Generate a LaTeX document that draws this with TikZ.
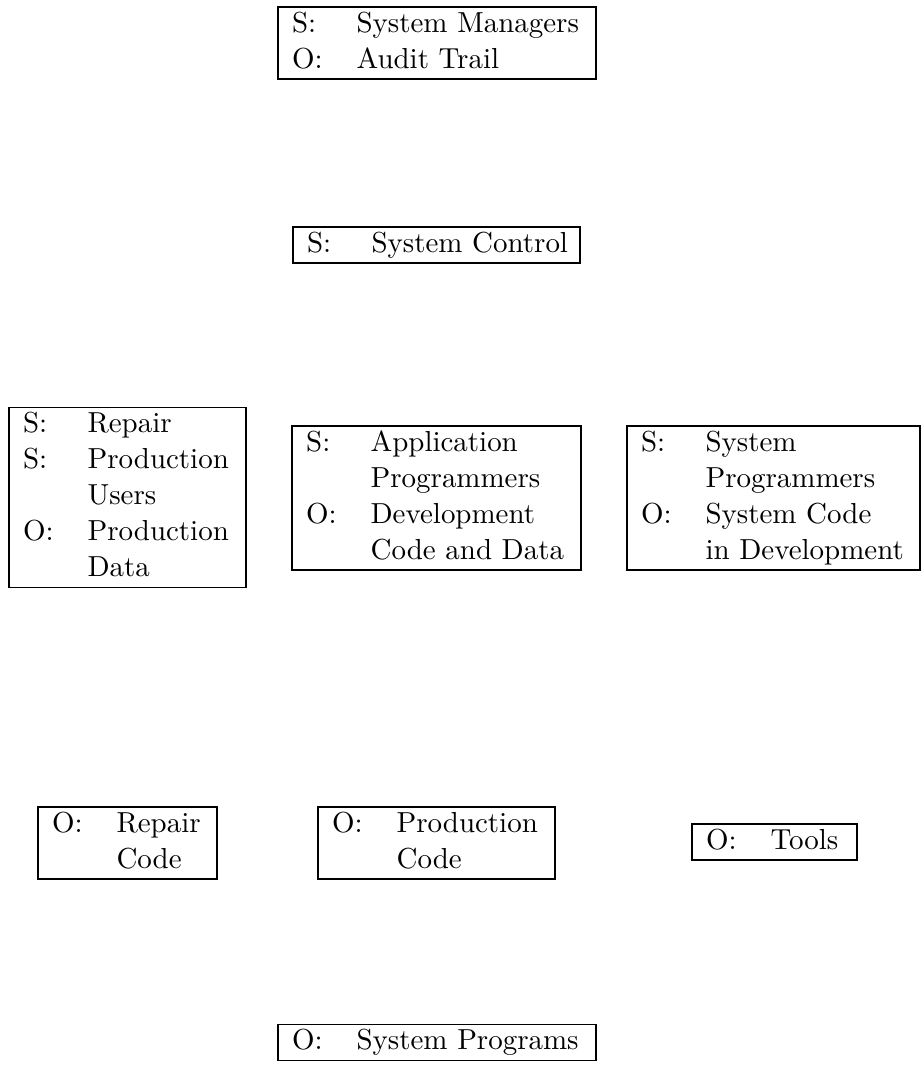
\documentclass[tikz,border=0pt]{standalone}
\begin{document}
\begin{tikzpicture}[x=0.33333pt,y=-0.33333pt,
  box/.style={draw, line width=0.65pt, inner xsep=4.7pt, inner ysep=0pt, text width=#1, anchor=center, font=\fontsize{9.65pt}{12pt}\selectfont}]
\useasboundingbox (0,0) rectangle (924,1068);
\newcommand{\rows}[1]{\noindent\begin{tabular}{@{}p{21.5pt}@{}l@{}}#1\end{tabular}}
\node[box=96.6pt] (sm) at (437,43) {\rows{S: & System Managers\\ O: & Audit Trail}};
\node[box=86.3pt] (sc) at (436.5,245) {\rows{S: & System Control}};
\node[box=69.6pt] (rp) at (127.5,497.5) {\rows{S: & Repair\\ S: & Production\\ & Users\\ O: & Production\\ & Data}};
\node[box=86.9pt] (ap) at (436.5,498) {\rows{S: & Application\\ & Programmers\\ O: & Development\\ & Code and Data}};
\node[box=88.3pt] (sp) at (773.5,498) {\rows{S: & System\\ & Programmers\\ O: & System Code\\ & in Development}};
\node[box=50.3pt] (rc) at (127.5,843) {\rows{O: & Repair\\ & Code}};
\node[box=69.6pt] (pc) at (436.5,843) {\rows{O: & Production\\ & Code}};
\node[box=45.6pt] (tl) at (774.5,842) {\rows{O: & Tools}};
\node[box=96.6pt] (sy) at (437,1042.5) {\rows{O: & System Programs}};
\end{tikzpicture}
\end{document}
